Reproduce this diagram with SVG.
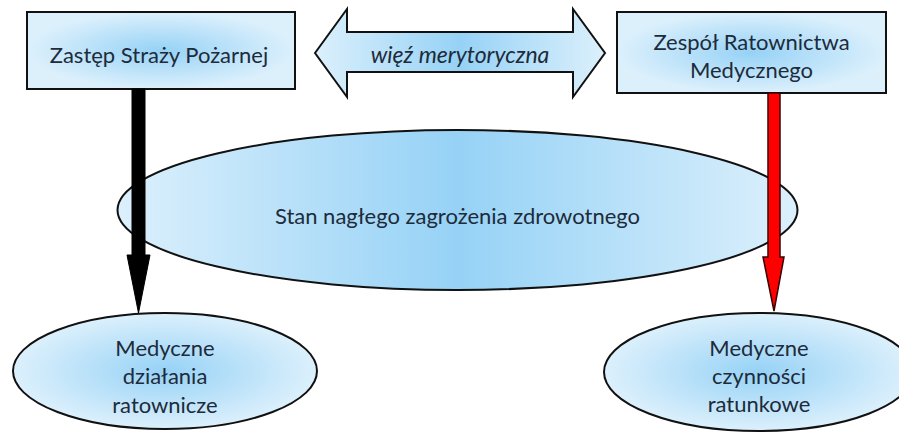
<svg xmlns="http://www.w3.org/2000/svg" width="899" height="432" viewBox="0 0 899 432">
  <style>
    .shape { stroke: #111; stroke-width: 2; }
    .lbl { font-family: Lato, "Liberation Sans", sans-serif; font-size: 22px; fill: #1d2b3a; text-anchor: middle; dominant-baseline: central; }
    .ital { font-style: italic; font-size: 23px; }
  </style>
  <defs>
    <radialGradient id="blueFill" cx="0.5" cy="0.5" r="0.5">
      <stop offset="0" stop-color="#96d2f6"/>
      <stop offset="1" stop-color="#dcf0fc"/>
    </radialGradient>
    <linearGradient id="blueFillH" x1="0" y1="0" x2="1" y2="0">
      <stop offset="0" stop-color="#dcf0fc"/>
      <stop offset="0.5" stop-color="#96d2f6"/>
      <stop offset="1" stop-color="#dcf0fc"/>
    </linearGradient>
  </defs>

  <!-- central situation -->
  <g id="node-stan">
    <ellipse class="shape" cx="457.5" cy="210" rx="340" ry="80" fill="url(#blueFillH)"/>
    <text class="lbl" x="457.5" y="215">Stan nagłego zagrożenia zdrowotnego</text>
  </g>

  <g id="node-psp">
    <rect class="shape" x="27" y="12" width="268" height="77" fill="url(#blueFill)"/>
    <text class="lbl" x="159" y="54">Zastęp Straży Pożarnej</text>
  </g>

  <g id="node-prm">
    <rect class="shape" x="617" y="12" width="269" height="81" fill="url(#blueFill)"/>
    <text class="lbl" x="751.5" y="41">Zespół Ratownictwa</text>
    <text class="lbl" x="751.5" y="69">Medycznego</text>
  </g>

  <g id="node-dzialania">
    <ellipse class="shape" cx="165" cy="371" rx="152" ry="58" fill="url(#blueFill)"/>
    <text class="lbl" x="165" y="347">Medyczne</text>
    <text class="lbl" x="165" y="375">działania</text>
    <text class="lbl" x="165" y="404">ratownicze</text>
  </g>

  <g id="node-czynnosci">
    <ellipse class="shape" cx="759" cy="372" rx="155" ry="59" fill="url(#blueFill)"/>
    <text class="lbl" x="759" y="347">Medyczne</text>
    <text class="lbl" x="759" y="375">czynności</text>
    <text class="lbl" x="759" y="403">ratunkowe</text>
  </g>

  <!-- connectors -->
  <g id="connectors">
    <g id="link-wiez">
      <polygon class="shape" points="315,53 347,9 347,32 573,32 573,9 605,53 573,97 573,72 347,72 347,97" fill="url(#blueFillH)" stroke-linejoin="miter"/>
      <text class="lbl ital" x="460" y="54">więź merytoryczna</text>
    </g>
    <polygon id="arrow-psp" points="132,89 145,89 145,255 150,255 138.5,313 127,255 132,255" fill="#000" stroke="#000" stroke-width="1"/>
    <polygon id="arrow-prm" points="768,93 780,93 780,257 784,257 774,311 763,257 768,257" fill="#ff0000" stroke="#3a0000" stroke-width="1.5"/>
  </g>
</svg>
